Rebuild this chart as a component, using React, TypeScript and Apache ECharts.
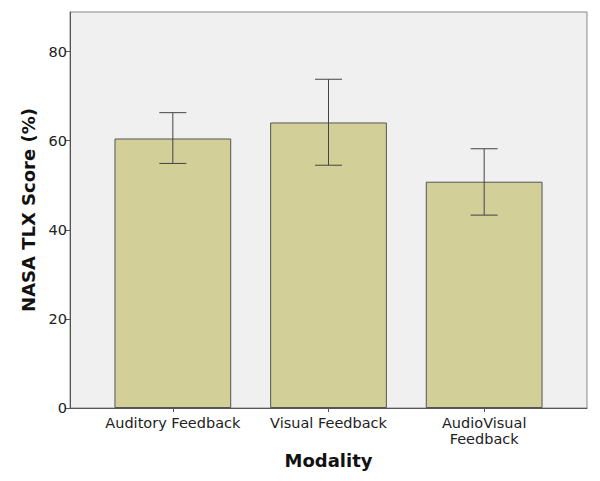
import React, { useEffect, useRef } from "react";
import * as echarts from "echarts";

const categories = ["Auditory Feedback", "Visual Feedback", "AudioVisual Feedback"];
const means = [60.5, 64.1, 50.8];
const ciLow = [54.9, 54.5, 43.3];
const ciHigh = [66.3, 73.8, 58.2];
const yTicks = [0, 20, 40, 60, 80];
const yMax = 88.9;

const FONT = "DejaVu Sans";

export default function App() {
  const ref = useRef<HTMLDivElement>(null);
  useEffect(() => {
    if (!ref.current) return;
    const chart = echarts.init(ref.current, null, { renderer: "svg" });
    const errData = categories.map((c, i) => [i, ciLow[i], ciHigh[i]]);
    chart.setOption({
      animation: false,
      textStyle: { fontFamily: FONT },
      grid: [
        { left: 70, right: 13, top: 12, bottom: 73, show: true, backgroundColor: "#f0f0f0", borderColor: "#888", borderWidth: 1 },
        { left: 95, right: 38, top: 12, bottom: 73 },
      ],
      xAxis: [
        {
          type: "category",
          gridIndex: 0,
          data: categories,
          axisLine: { show: true, lineStyle: { color: "#555", width: 1 } },
          axisTick: { show: false },
          axisLabel: { show: false },
          name: "Modality",
          nameLocation: "middle",
          nameGap: 43,
          nameTextStyle: { fontFamily: FONT, fontSize: 18, fontWeight: "bold", color: "#111" },
        },
        {
          type: "category",
          gridIndex: 1,
          data: categories,
          axisLine: { show: false },
          axisTick: { show: true, alignWithLabel: true, length: 4, lineStyle: { color: "#555" } },
          axisLabel: {
            interval: 0,
            fontFamily: FONT,
            fontSize: 14.5,
            color: "#222",
            margin: 7,
            lineHeight: 16,
            formatter: (v: string) => (v.length > 18 ? v.replace(" ", "\n") : v),
          },
        },
      ],
      yAxis: [
        {
          type: "value",
          gridIndex: 0,
          min: 0,
          max: yMax,
          interval: 20,
          splitLine: { show: false },
          axisLine: { show: true, lineStyle: { color: "#555", width: 1 } },
          axisTick: { show: true, length: 5, customValues: yTicks, lineStyle: { color: "#555" } },
          axisLabel: {
            customValues: yTicks,
            fontFamily: FONT,
            fontSize: 14.5,
            color: "#222",
            margin: 3,
          },
          name: "NASA TLX Score (%)",
          nameLocation: "middle",
          nameGap: 33,
          nameTextStyle: { fontFamily: FONT, fontSize: 18, fontWeight: "bold", color: "#111" },
        },
        {
          type: "value",
          gridIndex: 1,
          min: 0,
          max: yMax,
          interval: 20,
          show: false,
          splitLine: { show: false },
        },
      ],
      series: [
        {
          type: "bar",
          xAxisIndex: 1,
          yAxisIndex: 1,
          data: means,
          barWidth: "75%",
          itemStyle: { color: "#d3cf98", borderColor: "#555", borderWidth: 1 },
          z: 2,
        },
        {
          type: "custom",
          xAxisIndex: 1,
          yAxisIndex: 1,
          data: errData,
          z: 3,
          renderItem: (params: any, api: any) => {
            const x = api.value(0);
            const lo = api.coord([x, api.value(1)]);
            const hi = api.coord([x, api.value(2)]);
            const half = 13.5;
            const style = { stroke: "#444", lineWidth: 1 };
            return {
              type: "group",
              children: [
                { type: "line", shape: { x1: hi[0], y1: hi[1], x2: lo[0], y2: lo[1] }, style },
                { type: "line", shape: { x1: hi[0] - half, y1: hi[1], x2: hi[0] + half, y2: hi[1] }, style },
                { type: "line", shape: { x1: lo[0] - half, y1: lo[1], x2: lo[0] + half, y2: lo[1] }, style },
              ],
            };
          },
        },
      ],
    });
    return () => chart.dispose();
  }, []);
  return <div ref={ref} style={{ width: 600, height: 481, position: "absolute", left: 0, top: 0, background: "#fff" }} />;
}
